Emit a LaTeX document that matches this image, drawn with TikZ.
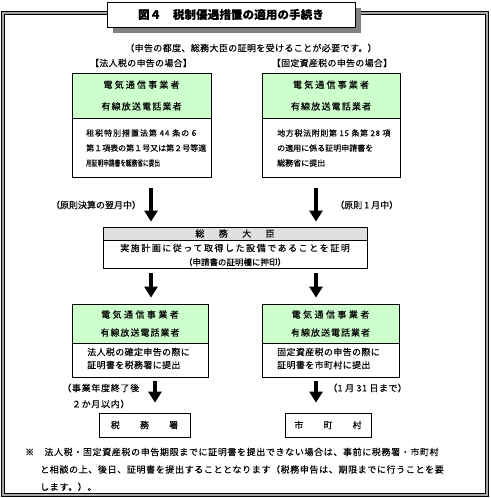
\documentclass[tikz,border=0pt]{standalone}
\usepackage{fontspec}
\setmainfont{Noto Sans CJK JP}[FakeBold=0.12]
\usetikzlibrary{arrows.meta}
\definecolor{hdrgreen}{HTML}{CCFFCC}
\definecolor{hdrgray}{HTML}{E0E0E0}
\definecolor{shadowgray}{HTML}{808080}
\newcommand\ls[1]{\addfontfeatures{LetterSpace=#1}}
\newcommand\fs[2]{\fontsize{#1}{#2}\selectfont}
\begin{document}
\begin{tikzpicture}[x=1pt,y=-1pt,
  boxline/.style={draw=black, line width=0.8pt},
  hdr/.style={boxline, fill=hdrgreen, inner sep=0pt, align=center},
  graybox/.style={boxline, fill=hdrgray, inner sep=0pt, align=center},
  bodybox/.style={boxline, fill=white, inner sep=0pt},
  txt/.style={inner sep=0pt},
  arr/.style={line width=3.5pt, -{Triangle[width=13pt,length=11pt]}},
]
\useasboundingbox (0,0) rectangle (490,498);
% outer frame
\draw[double=gray!70, double distance=2.4pt, line width=0.6pt] (3,13) rectangle (487,495);
% title with shadow
\fill[shadowgray] (113,8) rectangle (361,33);
\node[boxline, fill=white, minimum width=248, minimum height=25, inner sep=0pt,
      font=\fs{11.5}{13}\bfseries\ls{1}] (title) at (231,14.5) {図４　税制優遇措置の適用の手続き};

\node[txt, font=\fs{9}{10}\ls{4}] (sub) at (251,48) {（申告の都度、総務大臣の証明を受けることが必要です。）};
\node[txt, font=\fs{9}{10}\ls{3}] (labL) at (141,63) {【法人税の申告の場合】};
\node[txt, font=\fs{9}{10}\ls{3}] (labR) at (332,63) {【固定資産税の申告の場合】};

% top left box
\node[hdr, minimum width=139, minimum height=45, font=\fs{9}{21.7}\ls{24}] (lth) at (141.5,95.5)
  {電気通信事業者\\\ls{13}有線放送電話業者};
\node[bodybox, minimum width=139, minimum height=59, anchor=north] (ltb) at (lth.south) {};
\node[txt, anchor=west, align=left, font=\fs{8}{15}] (ltt) at (86,148)
  {\ls{12}租税特別措置法第 44 条の６\\\ls{0}第１項表の第１号又は第２号等適\\\scalebox{0.71}[1]{用証明申請書を総務省に提出}};

% top right box
\node[hdr, minimum width=138, minimum height=45, font=\fs{9}{21.7}\ls{24}] (rth) at (331,95.5)
  {電気通信事業者\\\ls{13}有線放送電話業者};
\node[bodybox, minimum width=138, minimum height=59, anchor=north] (rtb) at (rth.south) {};
\node[txt, anchor=west, align=left, font=\fs{8}{15}] (rtt) at (277,148)
  {\ls{8}地方税法附則第 15 条第 28 項\\\ls{0}の適用に係る証明申請書を\\総務省に提出};

% labels of first arrows
\node[txt, font=\fs{9}{10}\ls{0}] (labA) at (96,205) {（原則決算の翌月中）};
\node[txt, anchor=west, font=\fs{9}{10}\ls{0}] (labB) at (335,205) {（原則 1 月中）};

% middle box
\node[graybox, minimum width=264, minimum height=13, font=\fs{9}{10}\ls{30}] (mh) at (235,233.5) {総　務　大　臣};
\node[bodybox, minimum width=264, minimum height=28, anchor=north] (mb) at (mh.south) {};
\node[txt, align=center, font=\fs{9}{14}] (mt) at (235,255)
  {\ls{17}実施計画に従って取得した設備であることを証明\\\fs{8.5}{14}\ls{0}（申請書の証明欄に押印）};

% lower left box
\node[hdr, minimum width=136, minimum height=39, font=\fs{9}{18}\ls{27}] (lbh) at (140,323.5)
  {電気通信事業者\\\ls{11}有線放送電話業者};
\node[bodybox, minimum width=136, minimum height=34, anchor=north] (lbb) at (lbh.south) {};
\node[txt, anchor=west, align=left, font=\fs{9}{13}\ls{4}] (lbt) at (87,358.5)
  {法人税の確定申告の際に\\証明書を税務署に提出};

% lower right box
\node[hdr, minimum width=137, minimum height=39, font=\fs{9}{18}\ls{27}] (rbh) at (330.5,323.5)
  {電気通信事業者\\\ls{11}有線放送電話業者};
\node[bodybox, minimum width=137, minimum height=34, anchor=north] (rbb) at (rbh.south) {};
\node[txt, anchor=west, align=left, font=\fs{9}{13}\ls{4}] (rbt) at (277,358.5)
  {固定資産税の申告の際に\\証明書を市町村に提出};

% labels of last arrows
\node[txt, anchor=west, align=left, font=\fs{9}{16}\ls{8}] (labC) at (62,396)
  {（事業年度終了後\\　２か月以内）};
\node[txt, anchor=west, font=\fs{9}{10}\ls{5}] (labD) at (328,388) {（1 月 31 日まで）};

% bottom boxes
\node[boxline, fill=white, minimum width=91, minimum height=24, inner sep=0pt,
      font=\fs{9}{10}\ls{8}] (zeimu) at (144.5,425) {税　　務　　署};
\node[boxline, fill=white, minimum width=86, minimum height=24, inner sep=0pt,
      font=\fs{9}{10}\ls{8}] (shi) at (328,425) {市　　町　　村};

% note
\node[txt, anchor=west, align=left, font=\fs{9}{17.5}\ls{7}] (note) at (25,469.5)
  {※　法人税・固定資産税の申告期限までに証明書を提出できない場合は、事前に税務署・市町村\\
   \hspace*{15pt}と相談の上、後日、証明書を提出することとなります（税務申告は、期限までに行うことを要\\
   \hspace*{15pt}します。）。};

% arrows
\coordinate (ca) at (151,0);
\coordinate (cb) at (316,0);
\coordinate (cc) at (155,0);
\draw[arr, shorten <=10pt, shorten >=5pt] (ltb.south -| ca) -- (mh.north -| ca);
\draw[arr, shorten <=10pt, shorten >=5pt] (rtb.south -| cb) -- (mh.north -| cb);
\draw[arr, shorten <=4pt, shorten >=6pt] (mb.south -| ca) -- (lbh.north -| ca);
\draw[arr, shorten <=4pt, shorten >=6pt] (mb.south -| cb) -- (rbh.north -| cb);
\draw[arr, shorten <=3pt, shorten >=10pt] (lbb.south -| cc) -- (zeimu.north -| cc);
\draw[arr, shorten <=3pt, shorten >=10pt] (rbb.south -| cb) -- (shi.north -| cb);
\end{tikzpicture}
\end{document}
